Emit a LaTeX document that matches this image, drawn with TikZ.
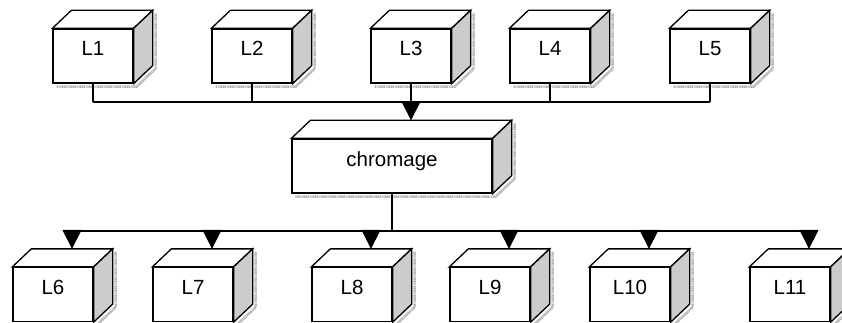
\documentclass[tikz,border=0pt]{standalone}
\usepackage{fontspec}
\setmainfont{Liberation Sans}
\usetikzlibrary{arrows.meta}
\tikzset{
  cube/.style={draw, line width=1.3pt, fill=white, inner sep=0pt,
    minimum height=54pt, text height=14pt, text depth=14pt,
    font=\fontsize{20.5}{23}\selectfont},
  small/.style={cube, minimum width=80pt},
  wide/.style={cube, minimum width=200pt},
  face/.style={draw, line width=1.3pt, line join=miter},
  shade/.style={draw=black!30, line width=2.6pt, dash pattern=on 1.2pt off 0.6pt},
  conn/.style={draw, line width=1.1pt},
  arrow/.style={conn, -{Triangle[width=19pt,length=19pt]}},
}
\newcommand\mkcube[1]{%
  \draw[shade] ([shift={(22,-15)}]#1.north east) -- ([shift={(22,-15)}]#1.south east)
     -- ([shift={(3,3)}]#1.south east) -- ([shift={(4,3)}]#1.south west);
  \draw[face, fill=white] (#1.north west) -- ([shift={(19,-18)}]#1.north west)
     -- ([shift={(19,-18)}]#1.north east) -- (#1.north east) -- cycle;
  \draw[face, fill=black!20] (#1.north east) -- ([shift={(19,-18)}]#1.north east)
     -- ([shift={(19,-18)}]#1.south east) -- (#1.south east) -- cycle;
  \coordinate (#1t) at ([shift={(19,-18)}]#1.north);
}
\begin{document}
\begin{tikzpicture}[x=1pt, y=-1pt]
\useasboundingbox (0,0) rectangle (842,323);
% top row
\node[small] (L1) at (93,56) {L1};
\node[small] (L2) at (252,56) {L2};
\node[small] (L3) at (411,56) {L3};
\node[small] (L4) at (550,56) {L4};
\node[small] (L5) at (710,56) {L5};
% middle
\node[wide] (ch) at (392,166) {chromage};
% bottom row
\node[small] (L6) at (53,294.5) {L6};
\node[small] (L7) at (193,294.5) {L7};
\node[small] (L8) at (352,294.5) {L8};
\node[small] (L9) at (490,294.5) {L9};
\node[small] (L10) at (630,294.5) {L10};
\node[small] (L11) at (790,294.5) {L11};
\foreach \n in {L1,L2,L3,L4,L5,ch,L6,L7,L8,L9,L10,L11}{\mkcube{\n}}
% redraw node fronts on top
\foreach \n/\t in {L1/L1,L2/L2,L3/L3,L4/L4,L5/L5,L6/L6,L7/L7,L8/L8,L9/L9,L10/L10,L11/L11}{
  \node[small] at (\n) {\t};}
\node[wide] at (ch) {chromage};
% top bus
\coordinate (bus1) at (411,102);
\foreach \n in {L1,L2,L4,L5}{\draw[conn] (\n.south) -- (\n.south |- bus1);}
\draw[conn] (L1.south |- bus1) -- (L5.south |- bus1);
\draw[arrow] (L3.south) -- (cht);
% bottom bus
\coordinate (bus2) at (392,231);
\draw[conn] (ch.south) -- (bus2);
\draw[conn] (L6t |- bus2) -- (L11t |- bus2);
\foreach \n in {L6,L7,L8,L9,L10,L11}{\draw[arrow] (\n t |- bus2) -- (\n t);}
\end{tikzpicture}
\end{document}
